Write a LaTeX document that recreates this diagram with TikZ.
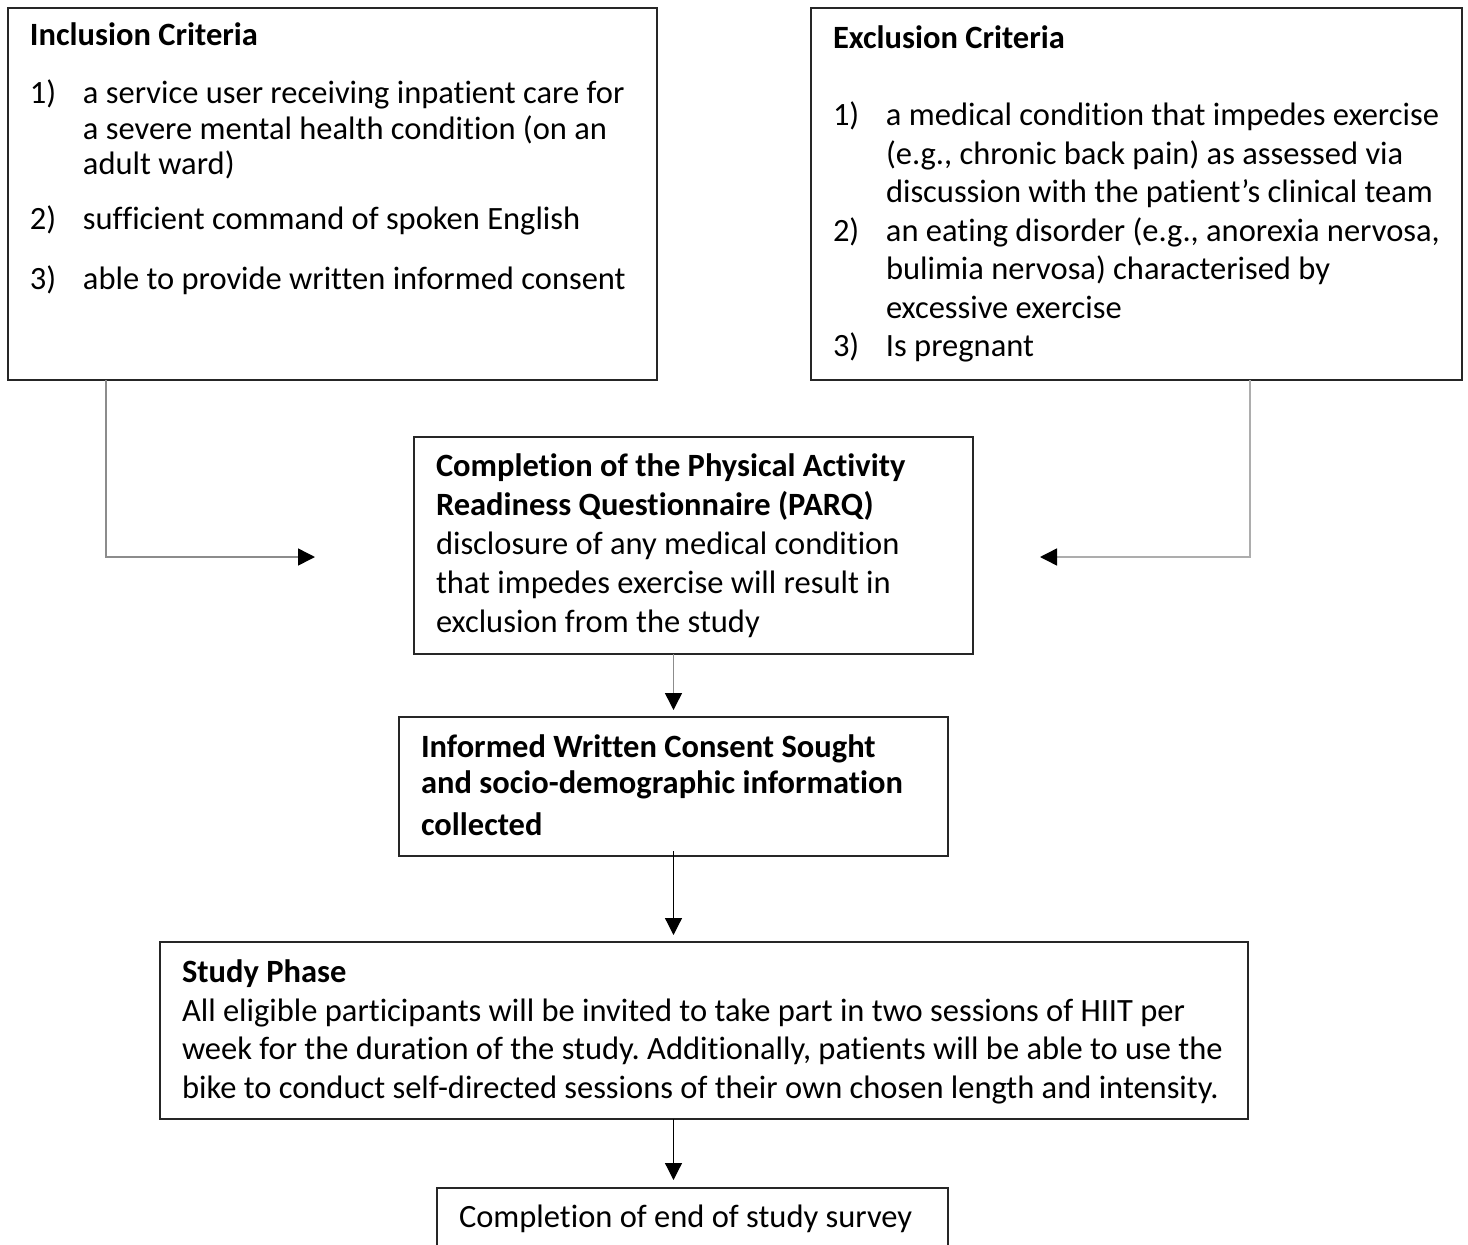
\documentclass[tikz,border=0pt]{standalone}
\usepackage{fontspec}
\setmainfont{Carlito}[RawFeature={-liga}]
\usetikzlibrary{arrows.meta,positioning,calc}
\frenchspacing

% numbered criterion with hanging indent
\newcommand\critem[2]{\par\hangindent=53pt\hangafter=1\makebox[53pt][l]{#1}#2\par}
% fixed-size text block: height, width, first baseline, text
\newcommand\boxtext[4]{\parbox[t][#1][t]{#2}{\rightskip=0pt minus 30pt\leavevmode\rule{0pt}{#3}#4}}

\begin{document}
\begin{tikzpicture}[x=1pt, y=-1pt,
    box/.style={draw=black!85, line width=1.6pt, anchor=north west, outer sep=0pt,
        inner xsep=22pt, inner ysep=0pt, font=\fontsize{32.5}{#1}\selectfont},
    link/.style={draw=black!45, line width=1.5pt, -{Triangle[length=17pt,width=17pt,black]}},
    flow/.style={draw=black, line width=1.2pt, -{Triangle[length=17pt,width=17pt,black]}}
]
\clip (0,0) rectangle (1468,1245);

\node[box=35.5] (incl) at (8,8) {\boxtext{372pt}{605pt}{37.5pt}{%
    \textbf{Inclusion Criteria}\par\vspace{22.5pt}
    \critem{1)}{a service user receiving inpatient care for\\ a severe mental health condition (on an\\ adult ward)}\vspace{19.5pt}
    \critem{2)}{sufficient command of spoken English}\vspace{24.5pt}
    \critem{3)}{able to provide written informed consent}}};
\node[box=38.5] (excl) at (811,8) {\boxtext{372pt}{607pt}{40.5pt}{%
    \textbf{Exclusion Criteria}\par\vspace{38.5pt}
    \critem{1)}{a medical condition that impedes exercise\\ (e.g., chronic back pain) as assessed via\\ discussion with the patient’s clinical team}
    \critem{2)}{an eating disorder (e.g., anorexia nervosa,\\ bulimia nervosa) characterised by\\ excessive exercise}
    \critem{3)}{Is pregnant}}};

\node[box=39] (parq) at (414,437) {\boxtext{217pt}{515pt}{39.5pt}{%
    \textbf{Completion of the Physical Activity\\ Readiness Questionnaire (PARQ)}\\
    disclosure of any medical condition\\ that impedes exercise will result in\\ exclusion from the study}};
\node[box=36] (consent) at (399,717) {\boxtext{139pt}{505pt}{40.5pt}{%
    \textbf{Informed Written Consent Sought\\ and socio-demographic information\\[6pt] collected}}};
\node[box=38.7] (study) at (160,942) {\boxtext{177pt}{1044pt}{40.5pt}{%
    \textbf{Study Phase}\\
    All eligible participants will be invited to take part in two sessions of HIIT per\\
    week for the duration of the study. Additionally, patients will be able to use the\\
    bike to conduct self-directed sessions of their own chosen length and intensity.}};
\node[box=38] (survey) at (437,1188) {\boxtext{90pt}{467pt}{39.5pt}{%
    Completion of end of study survey}};

% free ends of the side arrows
\coordinate (inend) at (315,557);
\coordinate (exend) at (1040,557);

\draw[link] ([xshift=98pt]incl.south west) |- (inend);
\draw[link, draw=black!32] ([xshift=439pt]excl.south west) |- (exend);
\draw[link, shorten >=7pt] (consent.north |- parq.south) -- (consent.north);
\draw[flow, shorten >=7pt] ([yshift=5pt]consent.south) -- (consent.south |- study.north);
\draw[flow, shorten >=8pt] (consent.south |- study.south) -- (consent.south |- survey.north);
\end{tikzpicture}
\end{document}
